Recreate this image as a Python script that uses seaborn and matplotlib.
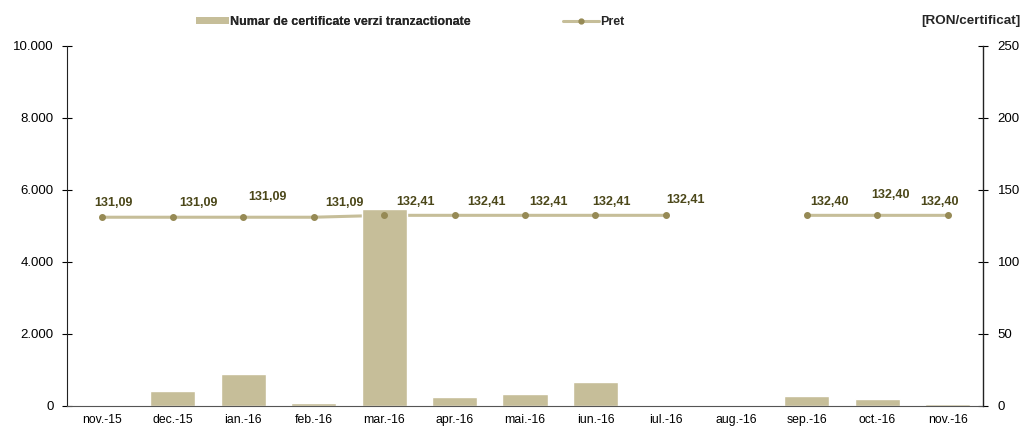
import numpy as np
import pandas as pd
import matplotlib
matplotlib.use('Agg')
import matplotlib.pyplot as plt
import matplotlib.ticker as mticker
from matplotlib.patches import Patch
from matplotlib.lines import Line2D
import seaborn as sns

# DATA
months = ['nov.-15', 'dec.-15', 'ian.-16', 'feb.-16', 'mar.-16', 'apr.-16', 'mai.-16',
          'iun.-16', 'iul.-16', 'aug.-16', 'sep.-16', 'oct.-16', 'nov.-16']
certificates = [30, 430, 890, 70, 5470, 250, 340, 670, 0, 0, 290, 195, 45]
price = [131.09, 131.09, 131.09, 131.09, 132.41, 132.41, 132.41, 132.41, 132.41,
         np.nan, 132.40, 132.40, 132.40]
price_labels = ['131,09', '131,09', '131,09', '131,09', '132,41', '132,41', '132,41',
                '132,41', '132,41', '', '132,40', '132,40', '132,40']
# label offsets in pixels (dx, dy) as placed in the original
label_offsets = [(11, 14), (26, 14), (24, 20), (31, 14), (31, 13), (32, 13), (24, 13),
                 (16, 13), (20, 15), (0, 0), (23, 13), (13, 20), (-8, 13)]

BAR_COLOR = '#c6be99'
LINE_COLOR = '#c6be99'
MARKER_COLOR = '#968a55'
LABEL_COLOR = '#4b4719'
AXIS_COLOR = '#222222'

sns.set_theme(style='white')
plt.rcParams['font.family'] = ['Liberation Sans', 'DejaVu Sans']

df = pd.DataFrame({'Luna': months, 'Certificate': certificates, 'Pret': price})
x = np.arange(len(months))

fig = plt.figure(figsize=(10.26, 4.30), dpi=100)
left, right, top, bottom = 67 / 1026, 983 / 1026, 1 - 46 / 430, 1 - 406 / 430
rect = [left, bottom, right - left, top - bottom]

# price line sits under the bars, markers and labels on top
ax_line = fig.add_axes(rect, zorder=0)
ax1 = fig.add_axes(rect, zorder=1)
ax1.patch.set_visible(False)
ax_top = fig.add_axes(rect, zorder=2)
ax_top.patch.set_visible(False)

ax_line.plot(x, df['Pret'], color=LINE_COLOR, linewidth=2.2)
ax_line.set_ylim(0, 250)
ax_line.set_xlim(-0.5, len(months) - 0.5)
ax_line.yaxis.tick_right()
ax_line.set_yticks(range(0, 251, 50))
ax_line.set_xticks([])
ax_line.tick_params(axis='y', length=7, direction='inout', width=0.8, labelsize=9.5,
                    colors='black', right=True, pad=7)
for side in ax_line.spines:
    ax_line.spines[side].set_visible(False)

sns.barplot(data=df, x='Luna', y='Certificate', color=BAR_COLOR, saturation=1,
            width=0.64, ax=ax1)
ax1.set_ylim(0, 10000)
ax1.set_xlim(-0.5, len(months) - 0.5)
ax1.set_yticks(range(0, 10001, 2000))
ax1.yaxis.set_major_formatter(mticker.FuncFormatter(lambda v, p: f'{int(v):,}'.replace(',', '.')))
ax1.set_xlabel('')
ax1.set_ylabel('')
ax1.set_xticks(x)
ax1.set_xticklabels(months)
ax1.set_xticks(np.arange(-0.5, len(months)), minor=True)
ax1.tick_params(axis='x', which='major', length=0, labelsize=8.8, colors='black', pad=6)
ax1.tick_params(axis='x', which='minor', length=7, direction='inout', width=0.8, color='#333333')
ax1.tick_params(axis='y', length=7, direction='inout', width=0.8, labelsize=9.5,
                colors='black', left=True, pad=6)
ax1.spines['top'].set_visible(False)
ax1.spines['right'].set_visible(False)
for side in ('left', 'bottom'):
    ax1.spines[side].set_color(AXIS_COLOR)
    ax1.spines[side].set_linewidth(0.8)
ax1.spines['bottom'].set_color('#555555')

ax_top.plot(x, df['Pret'], linestyle='none', marker='o', markersize=4, color=MARKER_COLOR)
for i, (val, lab) in enumerate(zip(price, price_labels)):
    if lab:
        ax_top.annotate(lab, (i, val), xytext=label_offsets[i], textcoords='offset pixels',
                        ha='center', va='center', fontsize=9, fontweight='bold',
                        color=LABEL_COLOR)
ax_top.set_ylim(0, 250)
ax_top.set_xlim(-0.5, len(months) - 0.5)
ax_top.set_xticks([])
ax_top.set_yticks([])
for side in ('top', 'left', 'bottom'):
    ax_top.spines[side].set_visible(False)
# right axis line on the topmost layer
ax_top.spines['right'].set_visible(True)
ax_top.spines['right'].set_color(AXIS_COLOR)
ax_top.spines['right'].set_linewidth(1.0)

bar_handle = Patch(facecolor=BAR_COLOR, edgecolor='none')
line_handle = Line2D([0], [0], color=LINE_COLOR, linewidth=2.2, marker='o', markersize=3.5,
                     markerfacecolor=MARKER_COLOR, markeredgecolor=MARKER_COLOR)
leg1 = fig.legend([bar_handle], ['Numar de certificate verzi tranzactionate'],
                  loc='center left', bbox_to_anchor=(196 / 1026, 1 - 22 / 430), frameon=False,
                  prop={'weight': 'bold', 'size': 9}, handlelength=2.6, handleheight=0.55,
                  handletextpad=0.1, borderpad=0, borderaxespad=0)
fig.legend([line_handle], ['Pret'],
           loc='center left', bbox_to_anchor=(563 / 1026, 1 - 22 / 430), frameon=False,
           prop={'weight': 'bold', 'size': 9}, handlelength=2.9,
           handletextpad=0.1, borderpad=0, borderaxespad=0)
fig.add_artist(leg1)

fig.text(971 / 1026, 1 - 21 / 430, '[RON/certificat]', ha='center', va='center',
         fontsize=9.7, fontweight='bold')

fig.savefig('out.png', dpi=100)
